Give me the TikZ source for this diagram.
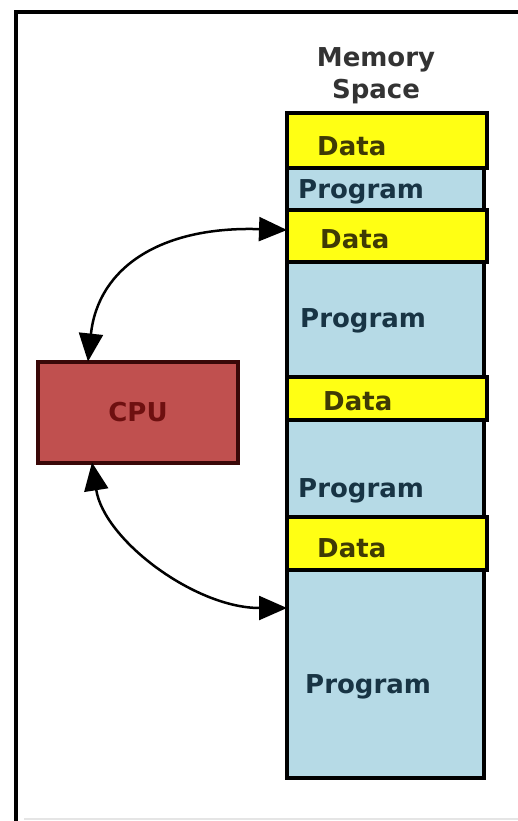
\documentclass[tikz,border=0pt]{standalone}
\usepackage{fontspec}
\setmainfont{DejaVu Sans}
\usepackage{xcolor}
\usetikzlibrary{arrows.meta}

\definecolor{datayellow}{HTML}{FFFF14}
\definecolor{progblue}{HTML}{B6DAE6}
\definecolor{cpured}{HTML}{C0504F}
\definecolor{cpuedge}{HTML}{3A0808}
\definecolor{cputext}{HTML}{6E1010}
\definecolor{datatext}{HTML}{3F3A05}
\definecolor{progtext}{HTML}{183444}

\tikzset{
  seg/.style={draw=black,line width=4pt,anchor=north west,outer sep=0pt,inner sep=0pt,minimum width=200pt},
  dataseg/.style={seg,fill=datayellow},
  progseg/.style={seg,fill=progblue,minimum width=197pt},
  lbl/.style={font=\fontsize{26}{30}\selectfont\bfseries,anchor=base west,inner sep=0pt},
  datalbl/.style={lbl,text=datatext},
  proglbl/.style={lbl,text=progtext},
  conn/.style={{Triangle[length=28pt,width=24pt]}-{Triangle[length=28pt,width=24pt]},line width=2.5pt}
}

\begin{document}
\begin{tikzpicture}[x=1pt,y=-1pt]
    \useasboundingbox (0,0) rectangle (518,821);
    % frame
    \draw[line width=4pt] (518,12) -- (16,12) -- (16,821);
    \draw[black!10,line width=2pt] (24,819) -- (518,819);
    % memory column
    \node[font=\fontsize{26}{32}\selectfont\bfseries,text=black!80,align=center,inner sep=0pt] (title) at (376,76) {Memory\\Space};
    \node[dataseg,minimum height=55pt] (d1) at (287,113) {};
    \node[progseg,minimum height=42pt] (p1) at (287,168) {};
    \node[dataseg,minimum height=52pt] (d2) at (287,210) {};
    \node[progseg,minimum height=115pt] (p2) at (287,262) {};
    \node[dataseg,minimum height=43pt] (d3) at (287,377) {};
    \node[progseg,minimum height=97pt] (p3) at (287,420) {};
    \node[dataseg,minimum height=53pt] (d4) at (287,517) {};
    \node[progseg,minimum height=208pt] (p4) at (287,570) {};
    \node[datalbl] (d1t) at (317,156) {Data};
    \node[proglbl] (p1t) at (298,198) {Program};
    \node[datalbl] (d2t) at (320,248) {Data};
    \node[proglbl] (p2t) at (300,327) {Program};
    \node[datalbl] (d3t) at (323,410) {Data};
    \node[proglbl] (p3t) at (298,497) {Program};
    \node[datalbl] (d4t) at (317,557) {Data};
    \node[proglbl] (p4t) at (305,693) {Program};
    % cpu
    \node[draw=cpuedge,fill=cpured,line width=4pt,outer sep=0pt,minimum width=200pt,minimum height=101pt,
          font=\fontsize{26}{30}\selectfont\bfseries,text=cputext] (cpu) at (138,412) {CPU};
    % buses
    \draw[conn] ([xshift=-50pt]cpu.north) .. controls (98,268) and (160,226) .. ([yshift=6pt]d2.west);
    \draw[conn] ([xshift=-46pt]cpu.south) .. controls (104,540) and (195,608) .. ([yshift=66pt]p4.west);
\end{tikzpicture}
\end{document}
